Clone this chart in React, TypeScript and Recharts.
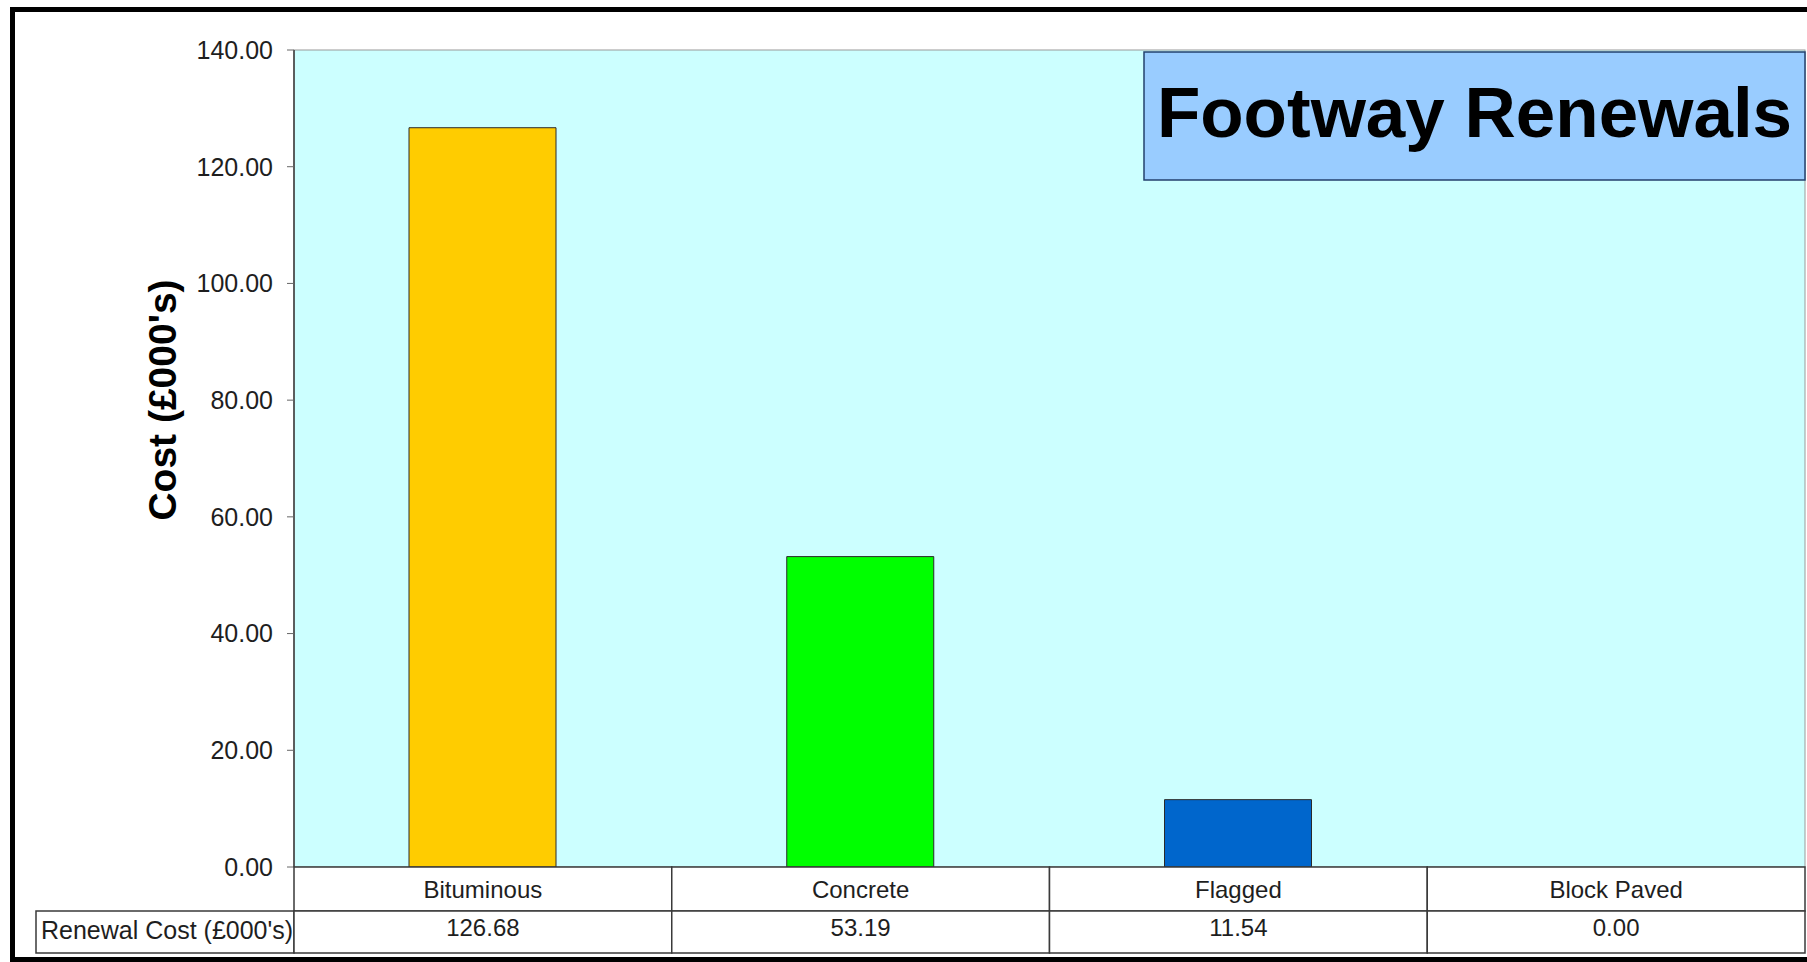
import React from "react";
import {
  Bar,
  BarChart,
  CartesianGrid,
  Cell,
  Customized,
  XAxis,
  YAxis,
} from "recharts";

const categories = ["Bituminous", "Concrete", "Flagged", "Block Paved"];
const renewalCost = [126.68, 53.19, 11.54, 0.0];
const barColours = ["#FFCC00", "#00FF00", "#0066CC", "#FF9900"];
const yTicks = [0, 20, 40, 60, 80, 100, 120, 140];
const seriesLabel = "Renewal Cost (£000's)";
const yAxisTitle = "Cost (£000's)";
const chartTitle = "Footway Renewals";

const W = 1807;
const H = 962;
const MARGIN = { top: 50, right: 2, bottom: 9, left: 0 };
const Y_AXIS_W = 294;
const ROW1_H = 44;
const ROW2_H = 42;
const PLOT_W = W - MARGIN.left - MARGIN.right - Y_AXIS_W;
const PLOT_H = H - MARGIN.top - MARGIN.bottom - ROW1_H - ROW2_H;
const BAND = PLOT_W / categories.length;
const FONT = '"Liberation Sans", Arial, sans-serif';
const LINE = "#3a3a3a";
const TEXT = "#1e1e1e";

const data = categories.map((category, i) => ({ category, cost: renewalCost[i] }));

// first row of the data table: category names
function CategoryCell(props: any) {
  const { x, y, payload } = props;
  return (
    <g>
      <rect
        x={x - BAND / 2}
        y={y}
        width={BAND}
        height={ROW1_H}
        fill="#ffffff"
        stroke={LINE}
        strokeWidth={1.5}
      />
      <text x={x} y={y + 31} textAnchor="middle" fontSize={24} fill={TEXT} fontFamily={FONT}>
        {payload.value}
      </text>
    </g>
  );
}

// second row: the values, plus the series label cell on the left
function ValueCell(props: any) {
  const { x, y, payload } = props;
  const value = renewalCost[payload.index];
  const left = x - BAND / 2;
  return (
    <g>
      {payload.index === 0 && (
        <g>
          <rect x={36} y={y} width={left - 36} height={ROW2_H} fill="#ffffff" stroke={LINE} strokeWidth={1.5} />
          <text x={41} y={y + 28} fontSize={25} fill={TEXT} fontFamily={FONT}>
            {seriesLabel}
          </text>
        </g>
      )}
      <rect x={left} y={y} width={BAND} height={ROW2_H} fill="#ffffff" stroke={LINE} strokeWidth={1.5} />
      <text x={x} y={y + 25} textAnchor="middle" fontSize={24} fill={TEXT} fontFamily={FONT}>
        {value.toFixed(2)}
      </text>
    </g>
  );
}

function Decorations() {
  const plotX = MARGIN.left + Y_AXIS_W;
  const plotY = MARGIN.top;
  return (
    <g>
      <rect x={plotX} y={plotY} width={PLOT_W} height={PLOT_H} fill="none" stroke="#9a9a9a" strokeWidth={1} />
      <text
        transform="translate(176, 400) rotate(-90)"
        textAnchor="middle"
        fontSize={39}
        fontWeight="bold"
        fill="#000"
        fontFamily={FONT}
      >
        {yAxisTitle}
      </text>
      <rect x={1144} y={52} width={661} height={128} fill="#99CCFF" stroke="#23406e" strokeWidth={1.5} />
      <text x={1144 + 661 / 2} y={137} textAnchor="middle" fontSize={71} fontWeight="bold" fill="#000" fontFamily={FONT}>
        {chartTitle}
      </text>
    </g>
  );
}

export default function App() {
  return (
    <div style={{ position: "relative", width: W, height: H, overflow: "hidden", background: "#fff" }}>
      <style>{"body{margin:0}"}</style>
      <BarChart width={W} height={H} data={data} margin={MARGIN}>
        <CartesianGrid fill="#CCFFFF" stroke="none" horizontal={false} vertical={false} />
        <XAxis
          dataKey="category"
          height={ROW1_H}
          axisLine={false}
          tickLine={false}
          tickSize={0}
          tickMargin={0}
          interval={0}
          tick={<CategoryCell />}
        />
        <XAxis
          xAxisId="values"
          dataKey="category"
          height={ROW2_H}
          axisLine={false}
          tickLine={false}
          tickSize={0}
          tickMargin={0}
          interval={0}
          tick={<ValueCell />}
        />
        <YAxis
          width={Y_AXIS_W}
          domain={[0, 140]}
          ticks={yTicks}
          interval={0}
          tickFormatter={(v: number) => v.toFixed(2)}
          axisLine={{ stroke: LINE, strokeWidth: 1.5 }}
          tickLine={{ stroke: "#666" }}
          tickSize={7}
          tickMargin={14}
          tick={{ fontSize: 25, fill: TEXT, fontFamily: FONT }}
        />
        <Bar dataKey="cost" barSize={147} stroke="#2a2a2a" strokeWidth={1} isAnimationActive={false}>
          {data.map((d, i) => (
            <Cell key={d.category} fill={barColours[i]} />
          ))}
        </Bar>
        <Customized component={<Decorations />} />
      </BarChart>
      <div
        style={{
          position: "absolute",
          left: 10,
          top: 7,
          width: 1900,
          height: 955,
          border: "5px solid #000",
          boxSizing: "border-box",
          pointerEvents: "none",
        }}
      />
    </div>
  );
}
